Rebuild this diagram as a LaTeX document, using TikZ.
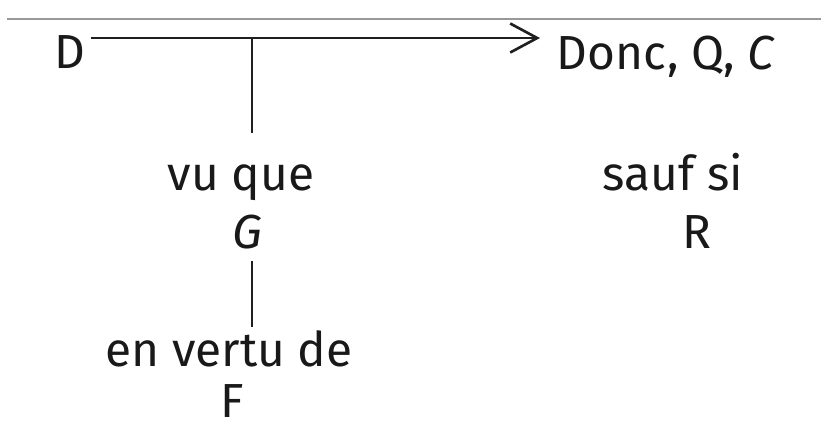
\documentclass[tikz,border=0pt]{standalone}
\usepackage{fontspec}
\setmainfont{Fira Sans}
\usetikzlibrary{arrows.meta}
\tikzset{
  lbl/.style={anchor=base, inner sep=0pt, text=black!90, font=\fontsize{13.6}{16}\selectfont},
  link/.style={draw=black!88, line width=0.75pt},
  rule/.style={draw=black!40, line width=0.6pt}
}
\begin{document}
\begin{tikzpicture}[x=0.01cm, y=-0.01cm]
\useasboundingbox (0,0) rectangle (821,423);
% top grey rule
\coordinate (r1) at (7,19);
\coordinate (r2) at (821,19);
\draw[rule] (r1) -- (r2);
% texts
\node[lbl] (D) at (70,68) {D};
\node[lbl] (C) at (666,69) {Donc, Q, \textit{C}};
\node[lbl] (vu) at (241,190) {vu que};
\node[lbl] (G) at (247,248) {\textit{G}};
\node[lbl] (sauf) at (673,190) {sauf si};
\node[lbl] (R) at (697,248) {R};
\node[lbl] (vertu) at (229,366) {en vertu de};
\node[lbl] (F) at (232,417) {F};
% connectors
\coordinate (a1) at (91,38);
\coordinate (a2) at (540,38);
\coordinate (j) at (252,38);
\coordinate (j2) at (252,133);
\coordinate (g1) at (252,261);
\coordinate (g2) at (252,327);
\draw[link, -{Straight Barb[length=0.27cm, width=0.29cm, line width=0.75pt]}] (a1) -- (a2);
\draw[link] (j) -- (j2);
\draw[link] (g1) -- (g2);
\end{tikzpicture}
\end{document}
